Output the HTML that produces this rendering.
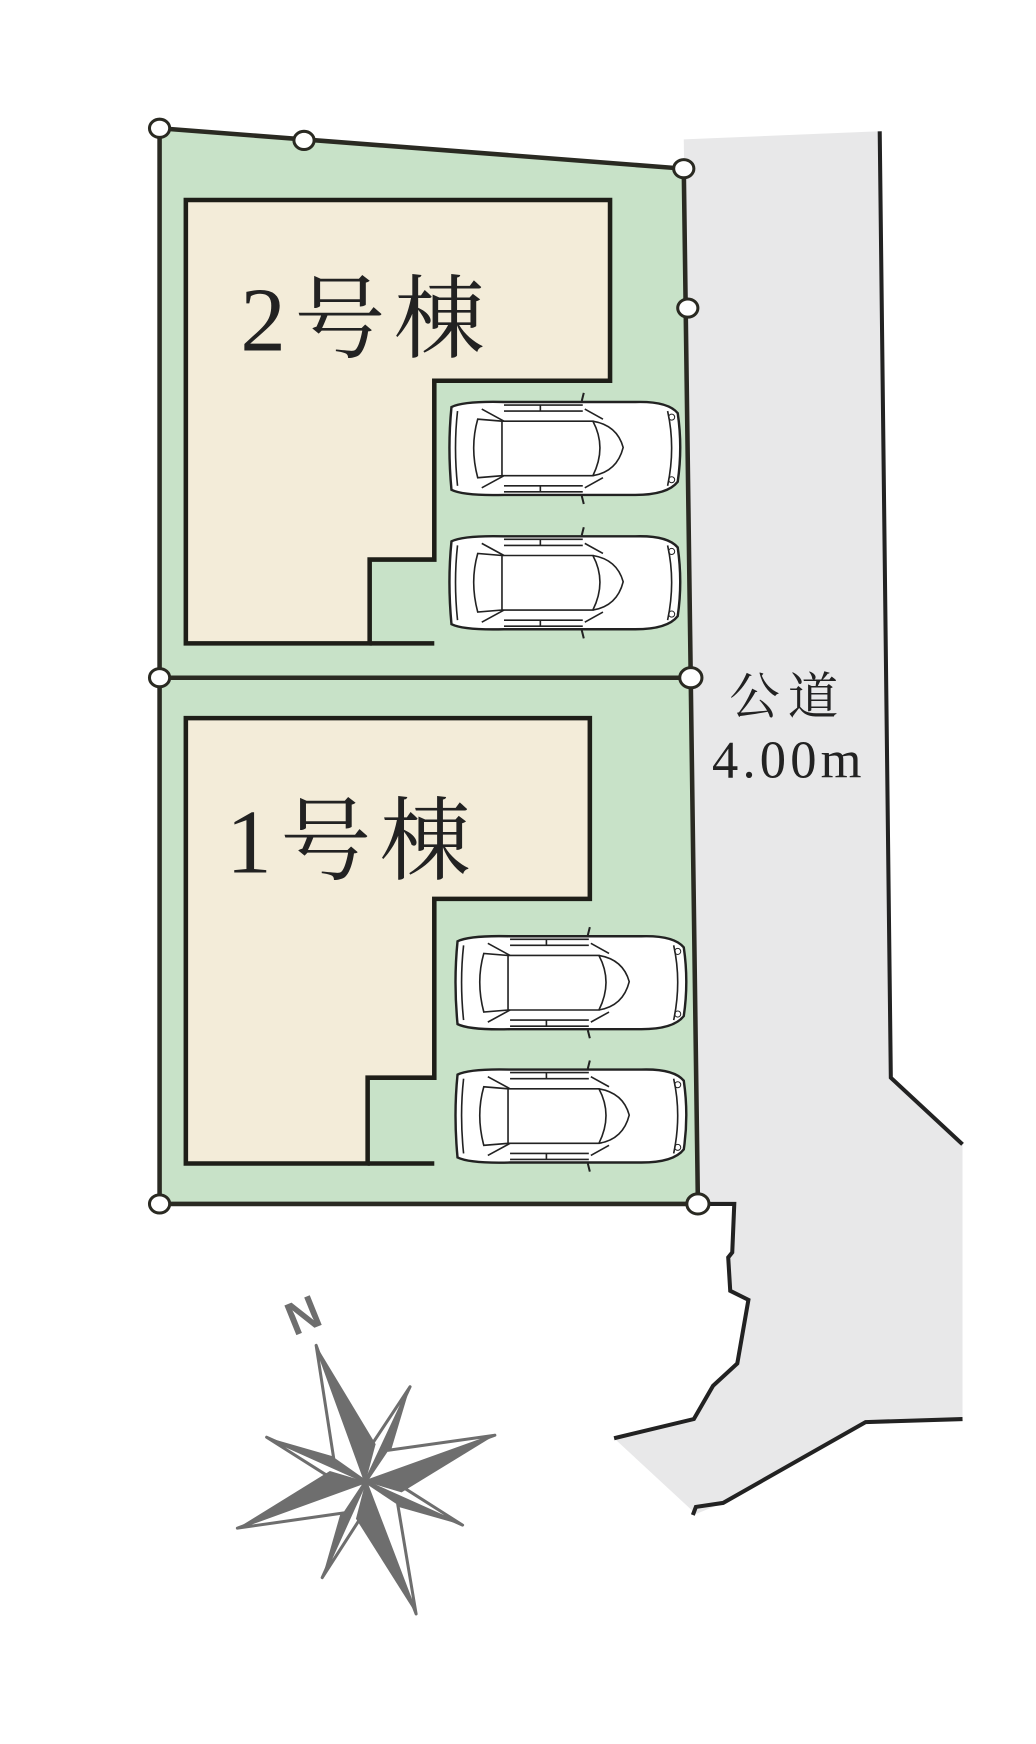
<!DOCTYPE html>
<html><head><meta charset="utf-8"><style>
html,body{margin:0;padding:0;background:#fff;}
svg{display:block;}
</style></head><body>
<svg id="s" width="1036" height="1744" viewBox="0 0 1036 1744" xmlns="http://www.w3.org/2000/svg">
<defs>
<g id="car">
 <path d="M8,6 Q4,46 8,88 Q20,94 60,93 L190,93 Q222,93 232,80 Q237,46 232,12 Q222,0 190,1 L60,1 Q20,0 8,6 Z" fill="#fff" stroke="#222" stroke-width="2.4"/>
 <path d="M14,10 Q10,46 14,84" fill="none" stroke="#222" stroke-width="1.6"/>
 <path d="M34,18 Q26,46 34,76 L58,74 L58,20 Z" fill="none" stroke="#222" stroke-width="1.6"/>
 <path d="M58,20 L148,20 Q162,46 148,74 L58,74" fill="none" stroke="#222" stroke-width="1.6"/>
 <path d="M148,20 Q172,24 178,46 Q172,70 148,74" fill="none" stroke="#222" stroke-width="1.6"/>
 <path d="M38,8 L60,20 M38,86 L60,74 M140,8 L158,18 M140,86 L158,76" stroke="#222" stroke-width="1.6"/>
 <path d="M60,4 L138,4 M60,10 L138,10 M60,84 L138,84 M60,90 L138,90 M96,4 L96,10 M96,84 L96,90" stroke="#222" stroke-width="1.6"/>
 <path d="M222,10 Q230,46 222,84" fill="none" stroke="#222" stroke-width="1.6"/>
 <circle cx="226" cy="16" r="3" fill="none" stroke="#222"/><circle cx="226" cy="78" r="3" fill="none" stroke="#222"/>
 <path d="M137,0 L139,-8 M137,94 L139,102" stroke="#222" stroke-width="2"/>
</g>
</defs>
<g transform="scale(1.01,1.01)">
<!-- road -->
<path d="M677,138 L871,130 L882,1067 L953,1133 L953,1405 L857,1408 L716,1488 L689,1499 L608,1424 L687,1405 L706,1372 L730,1350 L741,1287 L723,1278 L721,1245 L725,1240 L727,1192 L691,1192 Z" fill="#e8e8e9"/>
<path d="M871,130 L882,1067 L953,1133" fill="none" stroke="#222" stroke-width="4"/>
<path d="M953,1405 L857,1408 L716,1488 L689,1492 L686,1500" fill="none" stroke="#222" stroke-width="4"/>
<path d="M691,1192 L727,1192 L725,1240 L721,1245 L723,1278 L741,1287 L730,1350 L706,1372 L687,1405 L608,1424" fill="none" stroke="#222" stroke-width="4"/>
<!-- lot -->
<path d="M158,127 L677,167 L691,1192 L158,1192 Z" fill="#c8e2c8" stroke="#2a2a22" stroke-width="4.5"/>
<path d="M158,671 L684,671" stroke="#2a2a22" stroke-width="4.5"/>
<!-- building 2 -->
<path d="M184,198 L604,198 L604,377 L430,377 L430,554 L366,554 L366,637 L184,637 Z" fill="#f3ecd9" stroke="#1e1e18" stroke-width="4.5"/>
<path d="M366,637 L430,637" stroke="#1e1e18" stroke-width="4.5"/>
<!-- building 1 -->
<path d="M184,711 L584,711 L584,890 L430,890 L430,1067 L364,1067 L364,1152 L184,1152 Z" fill="#f3ecd9" stroke="#1e1e18" stroke-width="4.5"/>
<path d="M364,1152 L430,1152" stroke="#1e1e18" stroke-width="4.5"/>
<!-- cars -->
<use href="#car" transform="translate(439,397)"/>
<use href="#car" transform="translate(439,530)"/>
<use href="#car" transform="translate(445,926)"/>
<use href="#car" transform="translate(445,1058)"/>
<!-- markers -->
<g fill="#fff" stroke="#2a2a22" stroke-width="3">
<ellipse cx="158" cy="127" rx="10" ry="9"/><ellipse cx="301" cy="139" rx="10" ry="9"/>
<ellipse cx="677" cy="167" rx="10" ry="9"/><ellipse cx="681" cy="305" rx="10" ry="9"/>
<ellipse cx="158" cy="671" rx="10" ry="9"/><ellipse cx="684" cy="671" rx="11" ry="10"/>
<ellipse cx="158" cy="1192" rx="10" ry="9"/><ellipse cx="691" cy="1192" rx="11" ry="10"/>
</g>
<!-- labels -->
<g font-family="'Liberation Serif','Noto Serif CJK SC',serif" fill="#222">
<text x="238" y="347" font-size="90" textLength="242">2号棟</text>
<text x="224" y="864" font-size="90" textLength="242">1号棟</text>
<text x="722" y="707" font-size="50" textLength="108">公道</text>
<text x="705" y="770" font-size="52" textLength="148">4.00m</text>
</g>
<text x="300" y="1318" font-family="'Liberation Sans',sans-serif" font-weight="bold" font-size="46" fill="#6e6e6e" text-anchor="middle" transform="rotate(-22 300 1302)">N</text>
<g id="rose"></g>
</g>
</svg>
<script>
(function(){
var cx=362,cy=1467,g=document.getElementById('rose'),ns='http://www.w3.org/2000/svg';
var arms=[[313,1332,22],[412,1598,22],[235,1513,22],[490,1421,22],[406,1373,12],[319,1562,12],[264,1423,12],[458,1510,12]];
arms.forEach(function(a){
 var dx=a[0]-cx,dy=a[1]-cy,L=Math.hypot(dx,dy),nx=-dy/L,ny=dx/L,w=a[2];
 var mx=cx+dx*0.22,my=cy+dy*0.22;
 var p1=[mx+nx*w,my+ny*w],p2=[mx-nx*w,my-ny*w];
 var t1=document.createElementNS(ns,'polygon');
 t1.setAttribute('points',a[0]+','+a[1]+' '+cx+','+cy+' '+p1[0]+','+p1[1]);
 t1.setAttribute('fill','#6e6e6e');
 var t2=document.createElementNS(ns,'polygon');
 t2.setAttribute('points',a[0]+','+a[1]+' '+cx+','+cy+' '+p2[0]+','+p2[1]);
 t2.setAttribute('fill','#fff');t2.setAttribute('stroke','#6e6e6e');t2.setAttribute('stroke-width','3');t2.setAttribute('stroke-linejoin','round');
 if(w<20){g.insertBefore(t2,g.firstChild);g.insertBefore(t1,g.firstChild);}else{g.appendChild(t1);g.appendChild(t2);}
});
})();
</script>
</body></html>
